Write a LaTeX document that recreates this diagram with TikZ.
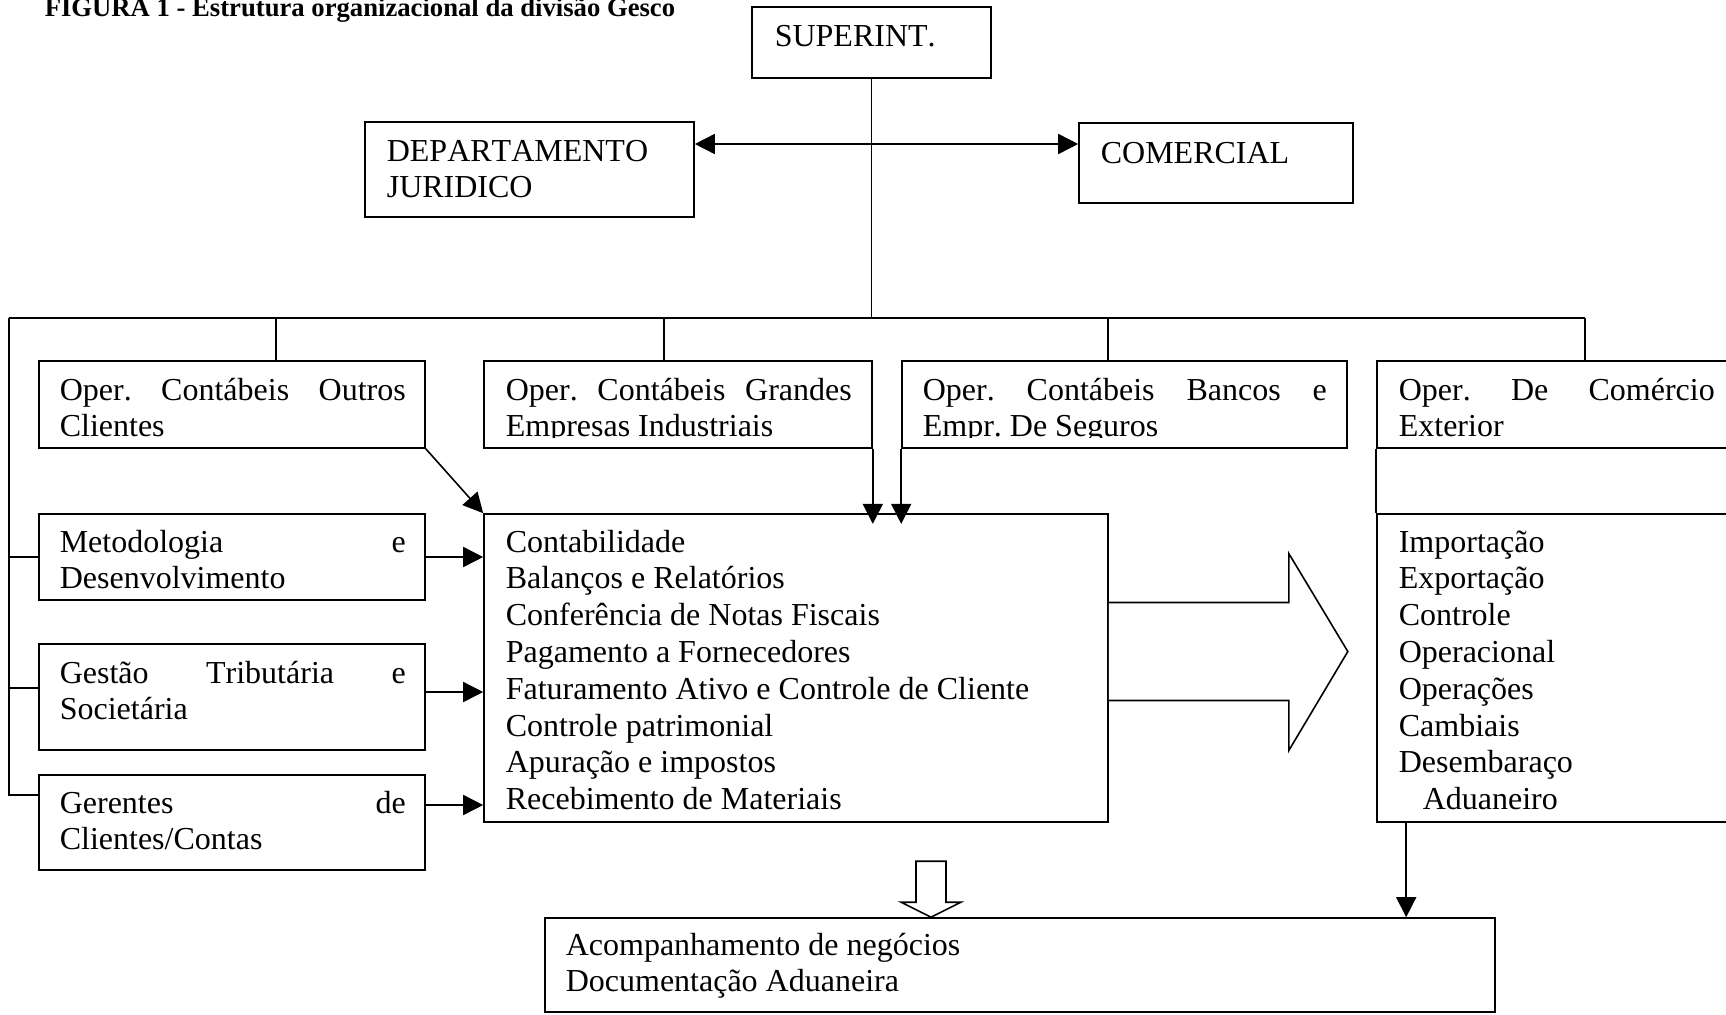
\documentclass[tikz,border=0pt]{standalone}
\usepackage{fontspec}
\setmainfont{Liberation Serif}[Kerning=Off]
\usepackage{tikz}
\usetikzlibrary{arrows.meta,fit,positioning}
\newlength\px
\setlength\px{0.375pt}
\frenchspacing
\tikzset{
  box/.style={draw,line width=0.6pt,inner sep=0pt},
  txt/.style={anchor=base west,inner sep=0pt,align=flush left,font=\fontsize{12}{13.8}\selectfont},
  blk/.style={draw,line width=0.6pt,fill=white},
}

\begin{document}
\begin{tikzpicture}[x=\px,y=-\px,line width=0.6pt,>={Triangle[length=7.5pt,width=7.5pt]}]
\useasboundingbox (0,0) rectangle (1726,1014);
			\node[box,fit={(752,7) (991,78)}] (sup) {};
			\node[box,fit={(365,122) (694,217)}] (jur) {};
			\node[box,fit={(1079,123) (1353,203)}] (com) {};
			\node[box,fit={(39,361) (425,448)}] (oc1) {};
			\node[box,fit={(484,361) (872,448)}] (oc2) {};
			\node[box,fit={(902,361) (1347,448)}] (oc3) {};
			\node[box,fit={(1377,361) (1760,448)}] (oce) {};
			\node[box,fit={(39,514) (425,600)}] (met) {};
			\node[box,fit={(39,644) (425,750)}] (ges) {};
			\node[box,fit={(39,775) (425,870)}] (ger) {};
			\node[box,fit={(484,514) (1108,822)}] (cont) {};
			\node[box,fit={(1377,514) (1760,822)}] (imp) {};
			\node[box,fit={(545,918) (1495,1012)}] (doc) {};

			\node[txt,font=\fontsize{10}{12}\selectfont\bfseries] (title) at (44,16) {FIGURA 1 - Estrutura organizacional da divisão Gesco};
			\node[txt] (supt) at (774,46) {SUPERINT.};
			\node[txt,text width=300\px] (jurt) at (386,161) {DEPARTAMENTO\\JURIDICO};
			\node[txt] (comt) at (1100,163) {COMERCIAL};
			\node[txt,text width=346\px] (oc1t) at (59,400) {Oper.\hfill Contábeis\hfill Outros\\Clientes};
			\begin{scope}
				\clip (oc2.north west) rectangle (oc3.east |- 0,437);
				\node[txt,text width=346\px] (oc2t) at (505,400) {Oper.\hfill Contábeis\hfill Grandes\\Empresas Industriais};
				\node[txt,text width=404\px] (oc3t) at (922,400) {Oper.\hfill Contábeis\hfill Bancos\hfill e\\Empr. De Seguros};
			\end{scope}
			\node[txt,text width=316\px] (ocet) at (1398,400) {Oper.\hfill De\hfill Comércio\\Exterior};
			\node[txt,text width=346\px] (mett) at (59,552) {Metodologia\hfill e\\Desenvolvimento};
			\node[txt,text width=346\px] (gest) at (59,683) {Gestão\hfill Tributária\hfill e\\Societária};
			\node[txt,text width=346\px] (gert) at (59,813) {Gerentes\hfill de\\Clientes/Contas};
			\node[txt,text width=590\px] (contt) at (505,552) {Contabilidade\\Balanços e Relatórios\\Conferência de Notas Fiscais\\Pagamento a Fornecedores\\Faturamento Ativo e Controle de Cliente\\Controle patrimonial\\Apuração e impostos\\Recebimento de Materiais};
			\node[txt,text width=316\px] (impt) at (1398,552) {Importação\\Exportação\\Controle\\Operacional\\Operações\\Cambiais\\Desembaraço\\\hspace*{9pt}Aduaneiro};
			\node[txt,text width=900\px] (doct) at (565,955) {Acompanhamento de negócios\\Documentação Aduaneira};

			\coordinate (hub) at (sup.south |- 0,144);
			\coordinate (busc) at (sup.south |- 0,318);
			\coordinate (busl) at (9,318);
			\coordinate (busr) at (1585,318);
			\draw (sup.south) -- (busc);
			\draw[<->] (jur.east |- hub) -- (com.west |- hub);
			\draw (busl) -- (busr);
			\foreach \xx/\bx in {276/oc1,664/oc2,1108/oc3,1585/oce}
				\draw (\xx,318) -- (\bx.north -| \xx,0);
			\draw (busl) -- (busl |- 0,795) -- (ger.west |- 0,795);
			\draw (busl |- met.west) -- (met.west);
			\draw (busl |- 0,688) -- (ges.west |- 0,688);

			\draw[->] (met.east) -- (met.east -| cont.west);
			\draw[->] (ges.east |- 0,692) -- (cont.west |- 0,692);
			\draw[->] (ger.east |- 0,805) -- (cont.west |- 0,805);
			\draw[->] (oc1.south east) -- (cont.north west);
			\draw[->,shorten >=-4pt] (oc2.south east) -- (oc2.south east |- cont.north);
			\draw[->,shorten >=-4pt] (oc3.south west) -- (oc3.south west |- cont.north);
			\draw (oce.south west) -- (imp.north west);

			\draw[blk] ([yshift=65.5\px]cont.east) -- ++(180,0) -- ++(0,-49) -- ++(59,98) -- ++(-59,99) -- ++(0,-50) -- ++(-180,0);
			\coordinate (impd) at ([xshift=30\px]imp.south west);
			\draw[->] (impd) -- (impd |- doc.north);
			\coordinate (dn) at ([xshift=-89\px]doc.north);
			\draw[blk] (dn) -- ++(-30,-15) -- ++(15,0) -- ++(0,-41) -- ++(30,0) -- ++(0,41) -- ++(15,0) -- cycle;
\end{tikzpicture}
\end{document}
